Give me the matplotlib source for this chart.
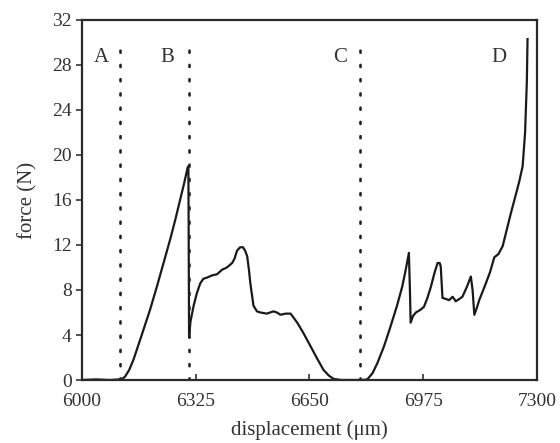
import matplotlib.pyplot as plt

plt.rcParams['font.family'] = ['Liberation Serif', 'DejaVu Serif']

# force-displacement trace
displacement = [6000, 6040, 6080, 6105, 6115, 6123, 6135, 6147, 6160, 6176, 6195, 6214,
                6233, 6252, 6267, 6281, 6292, 6302, 6304, 6306, 6310, 6319, 6328,
                6338, 6347, 6357, 6372, 6386, 6400, 6414, 6429, 6436, 6443, 6452,
                6460, 6466, 6472, 6477, 6481, 6490, 6500, 6510, 6528, 6547, 6557,
                6567, 6582, 6596, 6615, 6634, 6653, 6672, 6690, 6705, 6719, 6740,
                6770, 6800, 6815, 6830, 6844, 6863, 6882, 6900, 6915, 6925, 6934,
                6937, 6939, 6946, 6954, 6965, 6977, 6987, 6997, 7007, 7016, 7022,
                7025, 7030, 7040, 7049, 7059, 7068, 7078, 7087, 7100, 7111, 7116,
                7121, 7128, 7135, 7154, 7166, 7178, 7190, 7202, 7214, 7226, 7238,
                7249, 7259, 7266, 7271, 7273]
force = [0.0, 0.05, 0.0, 0.05, 0.1, 0.3, 0.9, 1.8, 3.0, 4.5, 6.3, 8.3,
         10.4, 12.5, 14.3, 16.1, 17.5, 18.9, 19.0, 3.8, 5.2, 6.6, 7.7,
         8.6, 9.0, 9.1, 9.3, 9.4, 9.8, 10.0, 10.4, 10.8, 11.5, 11.8,
         11.8, 11.5, 11.0, 9.8, 8.6, 6.6, 6.1, 6.0, 5.9, 6.1, 6.0,
         5.8, 5.9, 5.9, 5.1, 4.1, 3.0, 1.9, 0.9, 0.4, 0.1, 0.0,
         0.0, 0.0, 0.05, 0.6, 1.5, 3.0, 4.8, 6.6, 8.3, 9.8, 11.3,
         8.0, 5.1, 5.7, 6.0, 6.2, 6.5, 7.3, 8.3, 9.5, 10.4, 10.4,
         10.1, 7.3, 7.2, 7.1, 7.4, 7.0, 7.2, 7.4, 8.3, 9.2, 8.0,
         5.8, 6.4, 7.1, 8.6, 9.6, 10.9, 11.2, 11.9, 13.4, 14.9, 16.3,
         17.6, 19.0, 22.0, 26.5, 30.3]

# phase boundaries and their labels
boundaries = [6110, 6306, 6793]
phase_names = ['A', 'B', 'C', 'D']
phase_label_x = [6055, 6245, 6737, 7190]

xticks = [6000, 6325, 6650, 6975, 7300]
yticks = list(range(0, 33, 4))

fig = plt.figure(figsize=(5.6, 4.43), dpi=100)
ax = fig.add_axes([0.1464, 0.1422, 0.8125, 0.8127])

ax.plot(displacement, force, color='#1a1a1a', lw=1.6)
ax.vlines(boundaries, 0, 29.6, colors='#222222', lw=1.9,
          linestyles=(0, (0.8, 4.6)), capstyle='round')
for name, x in zip(phase_names, phase_label_x):
    ax.text(x, 28.7, name, fontsize=15, ha='center', va='center', color='#333333')

ax.set_xlim(6000, 7300)
ax.set_ylim(0, 32)
ax.set_xticks(xticks)
ax.set_yticks(yticks)
ax.tick_params(labelsize=14, colors='#333333', width=1.2)
ax.tick_params(axis='x', direction='in', length=4, pad=9)
ax.tick_params(axis='y', direction='out', length=4)
for s in ax.spines.values():
    s.set_linewidth(1.6)
    s.set_color('#2a2a2a')

ax.set_xlabel('displacement (\u03bcm)', fontsize=15, color='#333333', labelpad=8)
ax.set_ylabel('force (N)', fontsize=15, color='#333333', labelpad=10)

fig.savefig('out.png', dpi=100)
